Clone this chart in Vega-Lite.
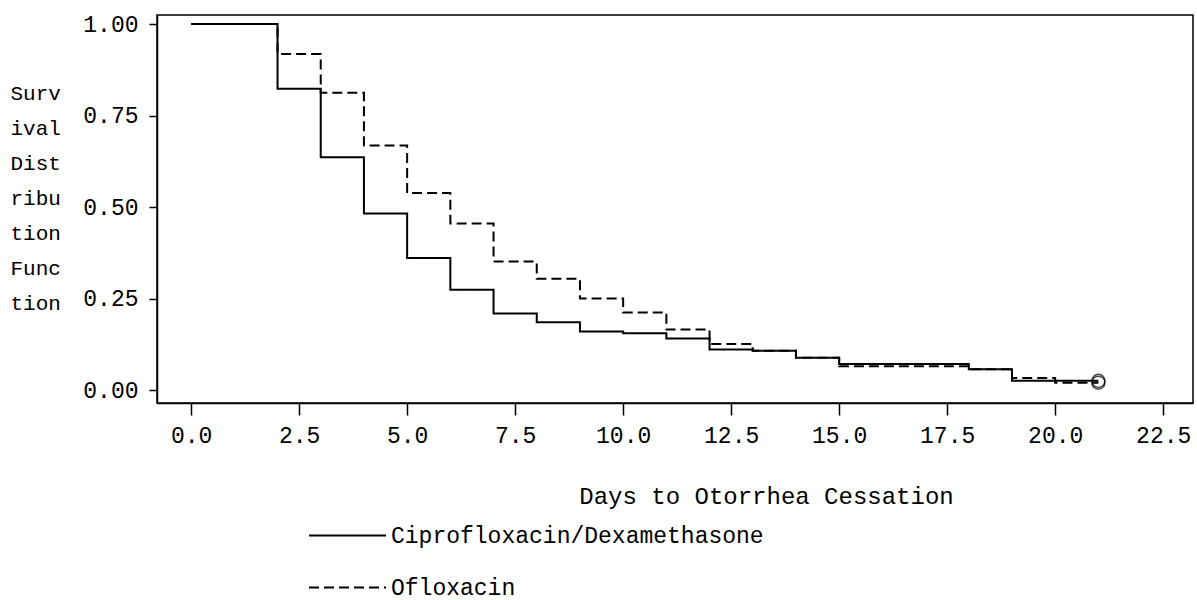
{
  "$schema": "https://vega.github.io/schema/vega-lite/v6.json",
  "width": 1036,
  "height": 388,
  "autosize": "none",
  "padding": {"left": 157, "top": 15, "right": 4, "bottom": 197},
  "background": "white",
  "config": {
    "view": {"stroke": "black", "strokeWidth": 1.5},
    "font": "Liberation Mono",
    "axis": {"grid": false, "domainColor": "black", "domainWidth": 1.5, "tickColor": "black", "tickWidth": 1.5, "labelColor": "black", "titleColor": "black", "labelFont": "Liberation Mono", "titleFont": "Liberation Mono", "titleFontWeight": "normal", "labelFontSize": 23, "titleFontSize": 24}
  },
  "data": {
    "values": [
      {"day": 0, "surv": 1.0, "group": "Ciprofloxacin/Dexamethasone", "censored": false},
      {"day": 2, "surv": 0.823, "group": "Ciprofloxacin/Dexamethasone", "censored": false},
      {"day": 3, "surv": 0.636, "group": "Ciprofloxacin/Dexamethasone", "censored": false},
      {"day": 4, "surv": 0.482, "group": "Ciprofloxacin/Dexamethasone", "censored": false},
      {"day": 5, "surv": 0.361, "group": "Ciprofloxacin/Dexamethasone", "censored": false},
      {"day": 6, "surv": 0.274, "group": "Ciprofloxacin/Dexamethasone", "censored": false},
      {"day": 7, "surv": 0.209, "group": "Ciprofloxacin/Dexamethasone", "censored": false},
      {"day": 8, "surv": 0.185, "group": "Ciprofloxacin/Dexamethasone", "censored": false},
      {"day": 9, "surv": 0.160, "group": "Ciprofloxacin/Dexamethasone", "censored": false},
      {"day": 10, "surv": 0.155, "group": "Ciprofloxacin/Dexamethasone", "censored": false},
      {"day": 11, "surv": 0.141, "group": "Ciprofloxacin/Dexamethasone", "censored": false},
      {"day": 12, "surv": 0.111, "group": "Ciprofloxacin/Dexamethasone", "censored": false},
      {"day": 13, "surv": 0.107, "group": "Ciprofloxacin/Dexamethasone", "censored": false},
      {"day": 14, "surv": 0.088, "group": "Ciprofloxacin/Dexamethasone", "censored": false},
      {"day": 15, "surv": 0.071, "group": "Ciprofloxacin/Dexamethasone", "censored": false},
      {"day": 18, "surv": 0.057, "group": "Ciprofloxacin/Dexamethasone", "censored": false},
      {"day": 19, "surv": 0.025, "group": "Ciprofloxacin/Dexamethasone", "censored": false},
      {"day": 21, "surv": 0.025, "group": "Ciprofloxacin/Dexamethasone", "censored": true},
      {"day": 0, "surv": 1.0, "group": "Ofloxacin", "censored": false},
      {"day": 2, "surv": 0.918, "group": "Ofloxacin", "censored": false},
      {"day": 3, "surv": 0.812, "group": "Ofloxacin", "censored": false},
      {"day": 4, "surv": 0.668, "group": "Ofloxacin", "censored": false},
      {"day": 5, "surv": 0.538, "group": "Ofloxacin", "censored": false},
      {"day": 6, "surv": 0.455, "group": "Ofloxacin", "censored": false},
      {"day": 7, "surv": 0.351, "group": "Ofloxacin", "censored": false},
      {"day": 8, "surv": 0.304, "group": "Ofloxacin", "censored": false},
      {"day": 9, "surv": 0.250, "group": "Ofloxacin", "censored": false},
      {"day": 10, "surv": 0.212, "group": "Ofloxacin", "censored": false},
      {"day": 11, "surv": 0.165, "group": "Ofloxacin", "censored": false},
      {"day": 12, "surv": 0.126, "group": "Ofloxacin", "censored": false},
      {"day": 13, "surv": 0.107, "group": "Ofloxacin", "censored": false},
      {"day": 14, "surv": 0.088, "group": "Ofloxacin", "censored": false},
      {"day": 15, "surv": 0.065, "group": "Ofloxacin", "censored": false},
      {"day": 18, "surv": 0.057, "group": "Ofloxacin", "censored": false},
      {"day": 19, "surv": 0.033, "group": "Ofloxacin", "censored": false},
      {"day": 20, "surv": 0.020, "group": "Ofloxacin", "censored": false},
      {"day": 21, "surv": 0.020, "group": "Ofloxacin", "censored": true}
    ]
  },
  "encoding": {
    "x": {
      "field": "day", "type": "quantitative",
      "scale": {"domain": [-0.79, 23.19], "nice": false, "zero": false},
      "axis": {
        "values": [0, 2.5, 5, 7.5, 10, 12.5, 15, 17.5, 20, 22.5],
        "format": ".1f",
        "tickSize": 12,
        "labelPadding": 9,
        "title": "Days to Otorrhea Cessation",
        "titleX": 609,
        "titleY": 93,
        "titleAnchor": null,
        "titleAlign": "center",
        "titleBaseline": "middle"
      }
    },
    "y": {
      "field": "surv", "type": "quantitative",
      "scale": {"domain": [-0.0355, 1.0246], "nice": false, "zero": false},
      "axis": {
        "values": [0, 0.25, 0.5, 0.75, 1],
        "format": ".2f",
        "tickSize": 8,
        "labelPadding": 11,
        "title": ["Surv", "ival", "Dist", "ribu", "tion", "Func", "tion"],
        "titleAngle": 0,
        "titleAlign": "left",
        "titleBaseline": "middle",
        "titleX": -147,
        "titleY": 78,
        "titleLineHeight": 35,
        "titleFontSize": 21
      }
    }
  },
  "layer": [
    {
      "mark": {"type": "line", "interpolate": "step-after", "color": "black", "strokeWidth": 2},
      "encoding": {
        "detail": {"field": "group"},
        "strokeDash": {
          "field": "group", "type": "nominal",
          "scale": {"domain": ["Ciprofloxacin/Dexamethasone", "Ofloxacin"], "range": [[1, 0], [10, 5]]},
          "legend": {
            "title": null,
            "orient": "none",
            "legendX": 151,
            "legendY": 481,
            "symbolType": "stroke",
            "symbolSize": 5929,
            "symbolStrokeColor": "black",
            "symbolStrokeWidth": 2,
            "labelFont": "Liberation Mono",
            "labelFontSize": 23,
            "labelColor": "black",
            "labelLimit": 0,
            "labelOffset": 4,
            "rowPadding": -27,
            "padding": 0
          }
        }
      }
    },
    {
      "transform": [{"filter": "datum.censored"}],
      "mark": {"type": "point", "shape": "circle", "filled": false, "color": "black", "strokeWidth": 1.5, "size": 170},
      "encoding": {}
    }
  ]
}
